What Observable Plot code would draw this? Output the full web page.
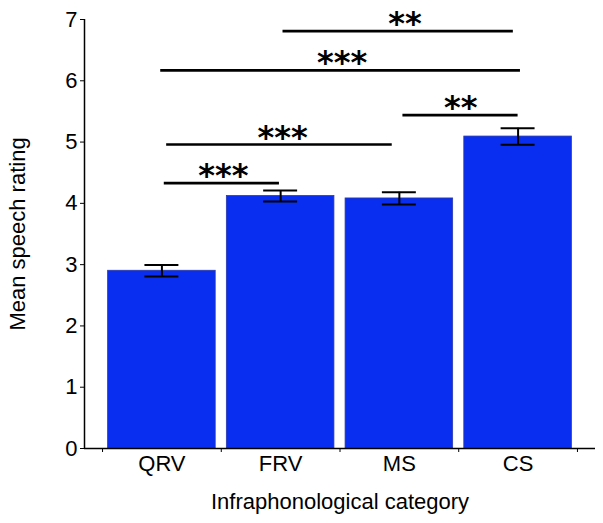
<!DOCTYPE html>
<html>
<head>
<meta charset="utf-8">
<script src="https://cdn.jsdelivr.net/npm/d3@7"></script>
<script src="https://cdn.jsdelivr.net/npm/@observablehq/plot@0.6"></script>
<style>
  html, body { margin: 0; padding: 0; background: #fff; }
  #chart svg { display: block; }
</style>
</head>
<body>
<div id="chart"></div>
<script>
// Categories and values
const categories = ["QRV", "FRV", "MS", "CS"];
const means = [2.90, 4.12, 4.08, 5.09];
const sems = [0.095, 0.09, 0.10, 0.135];

// Significance brackets: start / end positions (category index units), height, label
const sigX1 = [1.02, 1.04, 3.03, 0.99, 2.02];
const sigX2 = [1.99, 2.94, 4.00, 4.02, 3.96];
const sigY = [4.33, 4.96, 5.44, 6.17, 6.81];
const sigLabelX = [1.50, 2.00, 3.50, 2.50, 3.03];
const sigStars = ["***", "***", "**", "***", "**"];

const yTicks = [0, 1, 2, 3, 4, 5, 6, 7];
const boundaryTicks = [0.5, 1.5, 2.5, 3.5, 4.5];

const bars = categories.map((c, i) => ({ idx: i + 1, cat: c, mean: means[i], sem: sems[i] }));
const sigs = sigY.map((y, i) => ({ x1: sigX1[i], x2: sigX2[i], y, lx: sigLabelX[i], stars: sigStars[i] }));

const font = "'Liberation Sans', Arial, Helvetica, sans-serif";
const halfBar = 0.453;
const halfCap = 0.143;

const chart = Plot.plot({
  width: 603,
  height: 523,
  marginLeft: 84,
  marginRight: 8,
  marginTop: 19,
  marginBottom: 75,
  style: { fontFamily: font, fontSize: "22.5px", background: "#fff", color: "#000" },
  x: { type: "linear", domain: [0.348, 4.652] },
  y: { domain: [0, 7] },
  marks: [
    Plot.rectY(bars, {
      x1: d => d.idx - halfBar, x2: d => d.idx + halfBar,
      y1: 0, y2: "mean",
      fill: "#0a2ef0", stroke: "#2a3aa8", strokeWidth: 0.8
    }),
    Plot.ruleX(bars, { x: "idx", y1: d => d.mean - d.sem, y2: d => d.mean + d.sem, stroke: "#000", strokeWidth: 2 }),
    Plot.ruleY(bars, { y: d => d.mean + d.sem, x1: d => d.idx - halfCap, x2: d => d.idx + halfCap, stroke: "#000", strokeWidth: 2 }),
    Plot.ruleY(bars, { y: d => d.mean - d.sem, x1: d => d.idx - halfCap, x2: d => d.idx + halfCap, stroke: "#000", strokeWidth: 2 }),
    Plot.ruleY(sigs, { y: "y", x1: "x1", x2: "x2", stroke: "#000", strokeWidth: 2.6 }),
    Plot.text(sigs, {
      x: "lx", y: "y", text: "stars",
      fontSize: 32, fontFamily: "'DejaVu Sans', sans-serif", fontWeight: "bold",
      lineAnchor: "bottom", dy: 3, dx: 2, fill: "#000",
      letterSpacing: "3.5px"
    }),
    Plot.ruleX([0.348], { y1: 0, y2: 7, stroke: "#000", strokeWidth: 1.5 }),
    Plot.ruleY([0], { stroke: "#000", strokeWidth: 1.5 }),
    Plot.axisY({
      ticks: yTicks, tickSize: 4, tickPadding: 3, fontSize: 22, tickFormat: "d",
      label: "Mean speech rating", labelAnchor: "center", labelOffset: 75, labelArrow: "none"
    }),
    Plot.axisX({ ticks: boundaryTicks, tickSize: 4, tickFormat: () => "", label: null }),
    Plot.axisX({
      ticks: [1, 2, 3, 4], tickSize: 0, tickPadding: 7, fontSize: 22,
      tickFormat: d => categories[d - 1],
      label: "Infraphonological category", labelAnchor: "center", labelOffset: 60, labelArrow: "none"
    })
  ]
});
document.getElementById("chart").appendChild(chart);
</script>
</body>
</html>
